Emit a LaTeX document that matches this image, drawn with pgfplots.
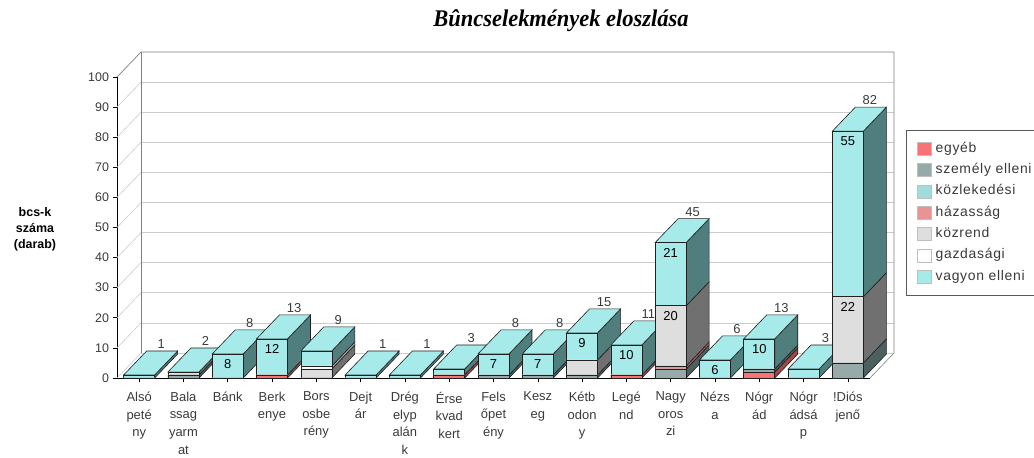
\documentclass[border=0pt]{standalone}
\usepackage{fontspec}
\setmainfont{Liberation Sans}
\newfontfamily\titlefont{Liberation Serif}[FakeStretch=0.94]
\newfontfamily\legfont{Liberation Sans}[LetterSpace=5]
\usepackage{pgfplots}
\usepackage{pgfplotstable}
\pgfplotsset{compat=1.18}

\definecolor{cEg}{HTML}{F87474}
\definecolor{cSz}{HTML}{96AAAA}
\definecolor{cKozl}{HTML}{A0DEDE}
\definecolor{cHaz}{HTML}{E89494}
\definecolor{cKr}{HTML}{DEDEDE}
\definecolor{cGaz}{HTML}{FFFFFF}
\definecolor{cVag}{HTML}{A6EAEA}
\definecolor{side1}{HTML}{A04848}
\definecolor{side2}{HTML}{4C6060}
\definecolor{side3}{HTML}{4E7D7B}
\definecolor{side4}{HTML}{A06060}
\definecolor{side5}{HTML}{707070}
\definecolor{side6}{HTML}{A8A8A8}
\definecolor{side7}{HTML}{4F7E7C}
\definecolor{topc}{HTML}{A6EAEA}
\definecolor{edgec}{HTML}{202020}
\definecolor{gridc}{HTML}{C8CCCC}
\definecolor{wallc}{HTML}{808080}
\definecolor{tickc}{HTML}{3A3A3A}

% segment values, stacked bottom to top
\pgfplotstableread{
idx eg sz kozl haz kr gaz vag total
0  0 0 0 0 0  0 1  1
1  0 1 0 0 1  0 0  2
2  0 0 0 0 0  0 8  8
3  1 0 0 0 0  0 12 13
4  0 0 0 0 3  1 5  9
5  0 0 0 0 0  0 1  1
6  0 0 0 0 0  0 1  1
7  1 0 0 0 0  0 2  3
8  0 1 0 0 0  0 7  8
9  0 1 0 0 0  0 7  8
10 0 1 0 0 5  0 9  15
11 1 0 0 0 0  0 10 11
12 0 3 0 1 20 0 21 45
13 0 0 0 0 0  0 6  6
14 2 1 0 0 0  0 10 13
15 0 0 0 0 0  0 3  3
16 0 5 0 0 22 0 55 82
}\datatable
\pgfplotstablecreatecol[create col/expr={0}]{c0}\datatable
\pgfplotstablecreatecol[create col/expr={\thisrow{eg}}]{c1}\datatable
\pgfplotstablecreatecol[create col/expr={\thisrow{c1}+\thisrow{sz}}]{c2}\datatable
\pgfplotstablecreatecol[create col/expr={\thisrow{c2}+\thisrow{kozl}}]{c3}\datatable
\pgfplotstablecreatecol[create col/expr={\thisrow{c3}+\thisrow{haz}}]{c4}\datatable
\pgfplotstablecreatecol[create col/expr={\thisrow{c4}+\thisrow{kr}}]{c5}\datatable
\pgfplotstablecreatecol[create col/expr={\thisrow{c5}+\thisrow{gaz}}]{c6}\datatable
\pgfplotstablecreatecol[create col/expr={\thisrow{c6}+\thisrow{vag}}]{c7}\datatable

\def\hw{0.35}
\def\dx{0.519}
\def\dy{7.97}

\newcommand\drawseg[2]{%
  \pgfmathtruncatemacro\km{#2-1}%
  \edef\tmp{\noexpand\pgfplotstablegetelem{#1}{c\km}\noexpand\of\noexpand\datatable}\tmp
  \let\vbot\pgfplotsretval
  \edef\tmp{\noexpand\pgfplotstablegetelem{#1}{c#2}\noexpand\of\noexpand\datatable}\tmp
  \let\vtop\pgfplotsretval
  \pgfmathtruncatemacro\flag{\vtop>\vbot}%
  \ifnum\flag=1
    \pgfmathsetmacro\vbotb{\vbot+\dy}%
    \pgfmathsetmacro\vtopb{\vtop+\dy}%
    \edef\tmp{\noexpand\addplot[draw=edgec,line width=0.6bp,fill=side#2,forget plot] coordinates {(\xr,\vbot) (\xrb,\vbotb) (\xrb,\vtopb) (\xr,\vtop)} -- cycle;}\tmp
  \fi
}
\newcommand\drawbar[1]{%
  \pgfmathsetmacro\xl{#1-\hw}%
  \pgfmathsetmacro\xr{#1+\hw}%
  \pgfmathsetmacro\xlb{#1-\hw+\dx}%
  \pgfmathsetmacro\xrb{#1+\hw+\dx}%
  \drawseg{#1}{1}\drawseg{#1}{2}\drawseg{#1}{3}\drawseg{#1}{4}%
  \drawseg{#1}{5}\drawseg{#1}{6}\drawseg{#1}{7}%
  \edef\tmp{\noexpand\pgfplotstablegetelem{#1}{c7}\noexpand\of\noexpand\datatable}\tmp
  \let\vtop\pgfplotsretval
  \pgfmathsetmacro\vtopb{\vtop+\dy}%
  \edef\tmp{\noexpand\addplot[draw=edgec,line width=0.6bp,fill=topc,forget plot] coordinates {(\xl,\vtop) (\xlb,\vtopb) (\xrb,\vtopb) (\xr,\vtop)} -- cycle;}\tmp
}

\begin{document}
\begin{tikzpicture}
\begin{axis}[
  at={(117bp,80bp)}, anchor=south west,
  scale only axis, width=753bp, height=301bp,
  xmin=-0.5, xmax=16.5, ymin=0, ymax=100,
  clip=false,
  axis x line*=bottom, axis y line*=left,
  axis line style={black, line width=0.6bp, -},
  ytick={0,10,...,100},
  xtick={0,...,16},
  xticklabels={Alsó\\peté\\ny, Bala\\ssag\\yarm\\at, Bánk, Berk\\enye, Bors\\osbe\\rény, Dejt\\ár, Drég\\elyp\\alán\\k, Érse\\kvad\\kert, Fels\\őpet\\ény, Kesz\\eg, Kétb\\odon\\y, Legé\\nd, Nagy\\oros\\zi, Nézs\\a, Nógr\\ád, Nógr\\ádsá\\p, !Diós\\jenő},
  tick align=outside, major tick length=4.5bp,
  tick style={black, line width=0.6bp},
  /pgf/number format/assume math mode=true,
  yticklabel style={font=\fontsize{12.5}{12.5}\selectfont, text=tickc},
  xticklabel style={align=center, font=\fontsize{13}{17.6}\selectfont, text=tickc, yshift=-6bp},
  reverse legend,
  legend cell align=left,
  legend style={at={(axis description cs:1.0478,0.8240)}, anchor=north west,
    draw=black!65, line width=0.5bp, fill=white,
    font=\legfont\fontsize{14}{14}\selectfont, text=tickc,
    inner xsep=11bp, inner ysep=10bp, row sep=4.3bp,
    nodes={inner sep=2bp, text height=10bp, text depth=3bp},
    /tikz/every odd column/.append style={column sep=2bp}},
]
% 3D frame: back wall, left wall, floor
\pgfplotsinvokeforeach{0,10,...,90}{
  \draw[gridc, line width=0.6bp] ([xshift=24bp,yshift=25bp]axis cs:-0.5,#1) -- ([xshift=24bp,yshift=25bp]axis cs:16.5,#1);
  \draw[gridc, line width=0.6bp] (axis cs:-0.5,#1) -- ([xshift=24bp,yshift=25bp]axis cs:-0.5,#1);
}
\draw[wallc, line width=0.7bp] (axis cs:-0.5,100) -- ([xshift=24bp,yshift=25bp]axis cs:-0.5,100) -- ([xshift=24bp,yshift=25bp]axis cs:16.5,100) -- ([xshift=24bp,yshift=25bp]axis cs:16.5,0);
\draw[wallc, line width=0.7bp] ([xshift=24bp,yshift=25bp]axis cs:-0.5,0) -- ([xshift=24bp,yshift=25bp]axis cs:-0.5,100);
\draw[wallc, line width=0.6bp] (axis cs:16.5,0) -- ([xshift=24bp,yshift=25bp]axis cs:16.5,0);

% sides and tops of the bars, left to right
\pgfplotsinvokeforeach{0,...,16}{\drawbar{#1}}

% front faces (cumulative, drawn from top segment down)
\pgfplotsset{front/.style={ybar, bar width=31bp, bar shift=0pt, draw=edgec, line width=0.6bp,
   legend image code/.code={\draw[##1, draw=black!25, line width=0.4bp] (0bp,-6.5bp) rectangle (14bp,6.5bp);},
   point meta=explicit symbolic,
   nodes near coords={\ifnum\pgfplotspointmeta<6 \else\pgfplotspointmeta\fi},
   nodes near coords style={anchor=north, yshift=-2bp, font=\fontsize{13}{13}\selectfont, text=black}}}
\addplot[front, fill=cVag] table[x=idx, y=c7, meta=vag] {\datatable};
\addlegendentry{vagyon elleni}
\addplot[front, fill=cGaz] table[x=idx, y=c6, meta=gaz] {\datatable};
\addlegendentry{gazdasági}
\addplot[front, fill=cKr] table[x=idx, y=c5, meta=kr] {\datatable};
\addlegendentry{közrend}
\addplot[front, fill=cHaz] table[x=idx, y=c4, meta=haz] {\datatable};
\addlegendentry{házasság}
\addplot[front, fill=cKozl] table[x=idx, y=c3, meta=kozl] {\datatable};
\addlegendentry{közlekedési}
\addplot[front, fill=cSz] table[x=idx, y=c2, meta=sz] {\datatable};
\addlegendentry{személy elleni}
\addplot[front, fill=cEg] table[x=idx, y=c1, meta=eg] {\datatable};
\addlegendentry{egyéb}

% totals above the bars
\addplot[draw=none, forget plot, point meta=explicit symbolic, nodes near coords,
  nodes near coords style={anchor=south, xshift=22bp, yshift=25bp, inner sep=1bp, font=\fontsize{13}{13}\selectfont, text=tickc}]
  table[x=idx, y=c7, meta=total] {\datatable};
\end{axis}
\node[font=\titlefont\bfseries\itshape\fontsize{24}{24}\selectfont, anchor=base] at (561bp,431bp) {Bûncselekmények eloszlása};
\node[align=center, font=\bfseries\fontsize{12.5}{16}\selectfont] at (35bp,229bp) {bcs-k\\száma\\(darab)};
\pgfresetboundingbox
\useasboundingbox (0,0) rectangle (1034bp,458bp);
\end{tikzpicture}
\end{document}
